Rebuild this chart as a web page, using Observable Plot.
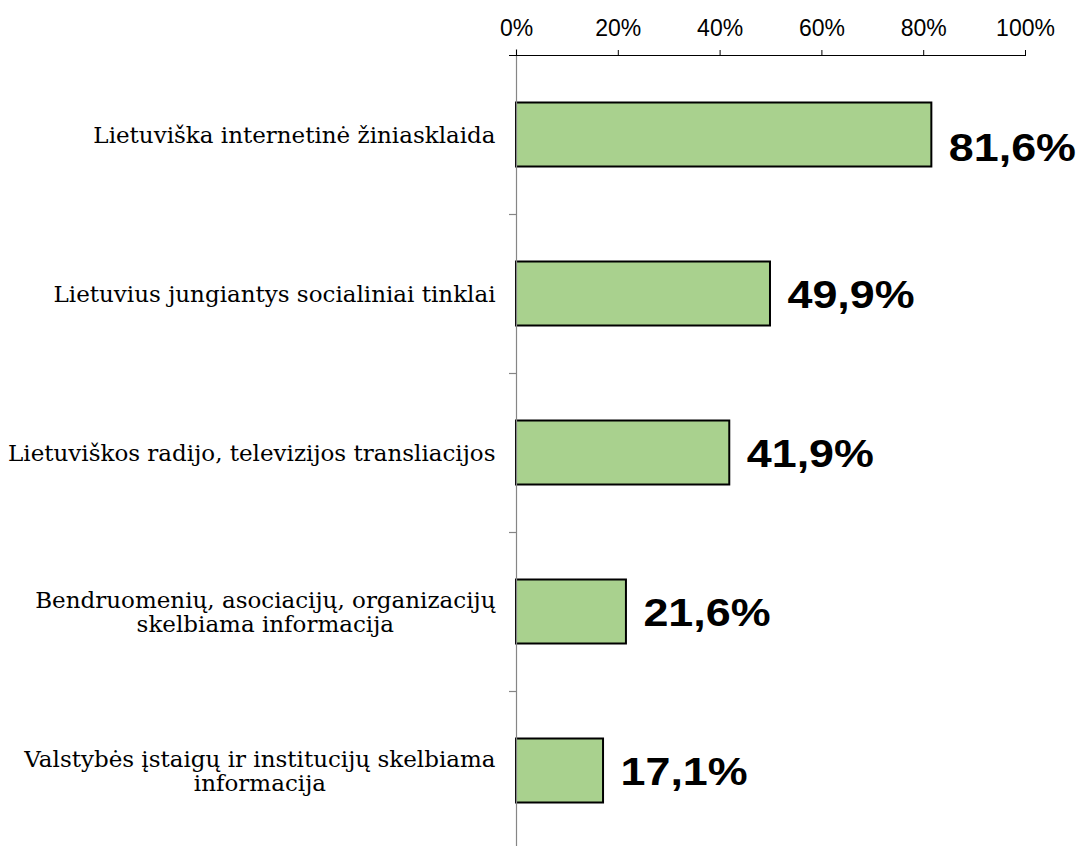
<!DOCTYPE html>
<html><head><meta charset="utf-8">
<script src="https://cdn.jsdelivr.net/npm/d3@7"></script>
<script src="https://cdn.jsdelivr.net/npm/@observablehq/plot@0.6"></script>
<style>body{margin:0;background:#fff;overflow:hidden;}</style>
</head><body><div id="chart"></div>
<script>
const categories = [
  "Lietuviška internetinė žiniasklaida",
  "Lietuvius jungiantys socialiniai tinklai",
  "Lietuviškos radijo, televizijos transliacijos",
  "Bendruomenių, asociacijų, organizacijų\nskelbiama informacija",
  "Valstybės įstaigų ir institucijų skelbiama\ninformacija"
];
const values = [81.6, 49.9, 41.9, 21.6, 17.1];
const valueLabels = ["81,6%", "49,9%", "41,9%", "21,6%", "17,1%"];
const xTicks = [0, 20, 40, 60, 80, 100];
const xTickLabels = ["0%", "20%", "40%", "60%", "80%", "100%"];

const data = categories.map((c, i) => ({category: c, value: values[i], label: valueLabels[i]}));

const serif = "DejaVu Serif, serif";
const sans = "Liberation Sans, Arial, sans-serif";
const half = 79.5;
const plot = Plot.plot({
  width: 1081, height: 850,
  marginTop: 55, marginBottom: 0, marginLeft: 516, marginRight: 56,
  x: {domain: [0, 100], axis: null},
  y: {domain: categories, padding: 0, axis: null},
  marks: [
    Plot.barX(data, {x: "value", y: "category", fill: "#A9D18E", stroke: "#000", strokeWidth: 2, insetTop: 47.5, insetBottom: 47.5}),
    Plot.ruleX([0], {stroke: "#868686", strokeWidth: 1.2, insetTop: -6}),
    Plot.ruleY(categories.slice(1), {y: d => d, x1: 0, x2: 0, insetLeft: -7, dy: -half, stroke: "#868686", strokeWidth: 1.2}),
    Plot.ruleY(categories.slice(0, 1), {y: d => d, x1: 0, x2: 100, insetLeft: -7, dy: -half, stroke: "#000", strokeWidth: 1.2}),
    Plot.axisX(xTicks, {anchor: "top", label: null, tickSize: 6, tickPadding: 14, tickFormat: d => xTickLabels[xTicks.indexOf(d)], fontSize: 23, fontFamily: sans, color: "#000", stroke: "#000"}),
    Plot.text(data, {y: "category", text: "category", frameAnchor: "left", dx: -21, textAnchor: "end", fontFamily: serif, fontSize: 23, lineHeight: 1.08, fill: "#000"}),
    Plot.text(data.slice(0, 1), {x: "value", y: "category", text: "label", dx: 17, dy: 14, textAnchor: "start", fontWeight: "bold", fontFamily: sans, fontSize: 38, fill: "#000"}),
    Plot.text(data.slice(1), {x: "value", y: "category", text: "label", dx: 17, dy: 2, textAnchor: "start", fontWeight: "bold", fontFamily: sans, fontSize: 38, fill: "#000"})
  ]
});
document.getElementById("chart").appendChild(plot);

plot.querySelectorAll("text").forEach(t => {
  const spans = t.querySelectorAll("tspan");
  if (spans.length > 1) {
    // center the lines of a multi-line category label within its block
    let w = 0;
    spans.forEach(s => { s.setAttribute("font-family", serif); w = Math.max(w, s.getComputedTextLength()); });
    t.setAttribute("text-anchor", "middle");
    spans.forEach(s => s.setAttribute("x", -w / 2));
  }
  if (valueLabels.includes(t.textContent)) {
    // widen the bold value labels like the reference rendering
    const tr = t.getAttribute("transform");
    if (tr) t.setAttribute("transform", tr + " scale(1.18,1)");
  }
});
</script>
</body></html>
